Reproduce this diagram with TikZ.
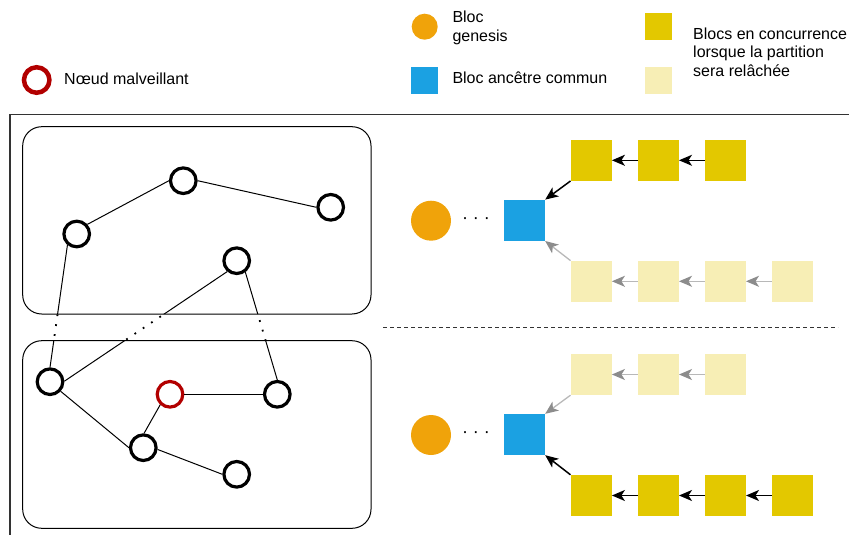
\documentclass[tikz,border=0pt]{standalone}
\usepackage{fontspec}
\setmainfont{Liberation Sans}
\usetikzlibrary{arrows.meta}
\definecolor{mred}{HTML}{B20000}
\definecolor{morange}{HTML}{F0A30A}
\definecolor{mblue}{HTML}{1BA1E2}
\definecolor{myel}{HTML}{E3C800}
\definecolor{mlight}{HTML}{F7EEB5}
\definecolor{mframe}{HTML}{333333}
\begin{document}
\begin{tikzpicture}[x=1pt,y=-1pt,
  peer/.style={circle,draw=black,line width=3.2pt,minimum size=25.6pt,inner sep=0pt},
  bad/.style={peer,draw=mred},
  blk/.style={rectangle,minimum size=41pt,inner sep=0pt},
  ylw/.style={blk,fill=myel},
  lyw/.style={blk,fill=mlight},
  anc/.style={blk,fill=mblue},
  gen/.style={circle,fill=morange,minimum size=40pt,inner sep=0pt},
  lbl/.style={anchor=base west,inner sep=0pt,font=\fontsize{16}{19}\selectfont},
  group/.style={draw=black,line width=1pt,rounded corners=19pt},
  link/.style={line width=1pt},
  gapline/.style={line width=1.8pt,dash pattern=on 1.8pt off 8.2pt},
  harr/.style={line width=1.5pt,-{Stealth[length=13pt,width=11pt,inset=3.5pt]}},
  sarr/.style={line width=1.3pt,draw=black!28,-{Stealth[length=13pt,width=11pt,inset=3.5pt,color=black!45]}},
  dotsnode/.style={inner sep=0pt,font=\fontsize{18}{20}\selectfont},
]
\useasboundingbox (0,0) rectangle (849,535);

% legend
\node[circle,draw=mred,line width=4.5pt,minimum size=25.5pt,inner sep=0pt] (lgbad) at (36.7,80) {};
\node[lbl] (tbad) at (64,84.3) {Nœud malveillant};
\node[circle,fill=morange,minimum size=26pt,inner sep=0pt] (lggen) at (424.7,26.7) {};
\node[lbl] (tgen1) at (452.3,22.7) {Bloc};
\node[lbl] (tgen2) at (452.3,41.7) {genesis};
\node[rectangle,fill=mblue,minimum size=26.5pt,inner sep=0pt] (lganc) at (424.7,80.3) {};
\node[lbl] (tanc) at (452.3,83.3) {Bloc ancêtre commun};
\node[rectangle,fill=myel,minimum size=26.7pt,inner sep=0pt] (lgy) at (658.3,26.3) {};
\node[rectangle,fill=mlight,minimum size=26.7pt,inner sep=0pt] (lgl) at (658.3,80.3) {};
\node[lbl] (tc1) at (693,39.3) {Blocs en concurrence};
\node[lbl] (tc2) at (693,58) {lorsque la partition};
\node[lbl] (tc3) at (693,76.7) {sera relâchée};

% frame
\draw[mframe,line width=1.2pt] (10,535) -- (10,114.3) -- (849,114.3);
\draw[mframe,line width=1.2pt,dash pattern=on 4pt off 3pt] (383,327.3) -- (838,327.3);

% groups
\draw[group] (22.7,126.7) rectangle (371,314);
\draw[group] (22.7,340.7) rectangle (371,528.3);

% peers
\node[peer] (A) at (183.3,180.7) {};
\node[peer] (B) at (76.7,234) {};
\node[peer] (C) at (330.7,207.3) {};
\node[peer] (D) at (236.7,260.7) {};
\node[peer] (E) at (50,381.7) {};
\node[bad]  (F) at (170,394.3) {};
\node[peer] (G) at (277.3,394.3) {};
\node[peer] (H) at (143.3,447.7) {};
\node[peer] (I) at (236.7,474.3) {};

\draw[link] (B.42) -- (A.180);
\draw[link] (A.0) -- (C.180);
\draw[link] (E.318) -- (H.180);
\draw[link] (H.87) -- (F.227);
\draw[link] (F.0) -- (G.180);
\draw[link] (H.353) -- (I.180);

\begin{scope}
  \clip (0,0) rectangle (400,314) (0,340.7) rectangle (400,535);
  \draw[link] (B.230) -- (E.90);
  \draw[link] (D.229) -- (E.2);
  \draw[link] (D.307) -- (G.90);
\end{scope}
\begin{scope}
  \clip (0,314.6) rectangle (400,340.2);
  \draw[gapline] (B.230) -- (E.90);
  \draw[gapline] (D.229) -- (E.2);
  \draw[gapline] (D.307) -- (G.90);
\end{scope}

% upper chains
\node[gen] (g1) at (431,220.7) {};
\node[dotsnode] (d1) at (476,220.3) {· · ·};
\node[anc] (a1) at (524.5,220.3) {};
\node[ylw] (y11) at (591.2,160.3) {};
\node[ylw] (y12) at (658.3,160.3) {};
\node[ylw] (y13) at (725.3,160.3) {};
\node[lyw] (l11) at (591.2,281.3) {};
\node[lyw] (l12) at (658.3,281.3) {};
\node[lyw] (l13) at (725.3,281.3) {};
\node[lyw] (l14) at (792.3,281.3) {};
\draw[harr] (y12) -- (y11);
\draw[harr] (y13) -- (y12);
\draw[harr] (y11.south west) -- (a1.north east);
\draw[sarr] (l12) -- (l11);
\draw[sarr] (l13) -- (l12);
\draw[sarr] (l14) -- (l13);
\draw[sarr] (l11.north west) -- (a1.south east);

% lower chains
\node[gen] (g2) at (431,435) {};
\node[dotsnode] (d2) at (476,434.5) {· · ·};
\node[anc] (a2) at (524.5,434.5) {};
\node[lyw] (l21) at (591.2,374.5) {};
\node[lyw] (l22) at (658.3,374.5) {};
\node[lyw] (l23) at (725.3,374.5) {};
\node[ylw] (y21) at (591.2,495.5) {};
\node[ylw] (y22) at (658.3,495.5) {};
\node[ylw] (y23) at (725.3,495.5) {};
\node[ylw] (y24) at (792.3,495.5) {};
\draw[sarr] (l22) -- (l21);
\draw[sarr] (l23) -- (l22);
\draw[sarr] (l21.south west) -- (a2.north east);
\draw[harr] (y22) -- (y21);
\draw[harr] (y23) -- (y22);
\draw[harr] (y24) -- (y23);
\draw[harr] (y21.north west) -- (a2.south east);
\end{tikzpicture}
\end{document}
